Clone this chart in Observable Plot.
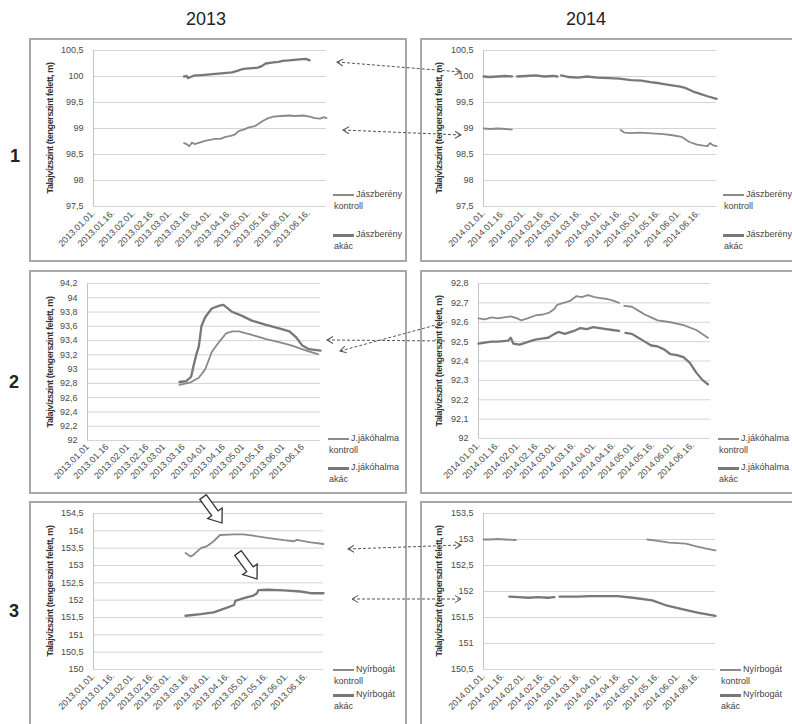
<!DOCTYPE html>
<html><head><meta charset="utf-8">
<script src="https://cdn.jsdelivr.net/npm/d3@7"></script>
<script src="https://cdn.jsdelivr.net/npm/@observablehq/plot@0.6"></script>
<style>
body{margin:0;background:#fff;width:792px;height:724px;overflow:hidden;position:relative;font-family:"Liberation Sans",Arial,sans-serif;color:#444;}
.frame{position:absolute;border:2px solid #a8a8a8;box-sizing:border-box;}
.hdr{position:absolute;font-size:18px;color:#222;line-height:1;}
.row{position:absolute;font-size:18px;font-weight:bold;color:#222;line-height:1;}
.ytitle{position:absolute;transform:translate(-50%,-50%) rotate(-90deg);white-space:nowrap;font-weight:bold;font-size:9px;letter-spacing:-0.4px;font-family:"Liberation Sans",sans-serif;color:#333;}
.leg{position:absolute;font-size:9px;color:#444;line-height:11px;white-space:nowrap;}
.sw{position:absolute;}
svg.chart{position:absolute;overflow:visible;}
</style></head>
<body>
<script>
// ---------- data ----------
const years = [2013, 2014];
const siteNames = ["Jászberény", "J.jákóhalma", "Nyírbogát"];
const treatmentNames = ["kontroll", "akác"];
const xTickMD = ["01.01","01.16","02.01","02.16","03.01","03.16","04.01","04.16","05.01","05.16","06.01","06.16"];
const yTicksJaszbereny = [97.5, 98, 98.5, 99, 99.5, 100, 100.5];
const yTicksJakohalma2013 = [92, 92.2, 92.4, 92.6, 92.8, 93, 93.2, 93.4, 93.6, 93.8, 94, 94.2];
const yTicksJakohalma2014 = [92, 92.1, 92.2, 92.3, 92.4, 92.5, 92.6, 92.7, 92.8];
const yTicksNyirbogat2013 = [150, 150.5, 151, 151.5, 152, 152.5, 153, 153.5, 154, 154.5];
const yTicksNyirbogat2014 = [150.5, 151, 151.5, 152, 152.5, 153, 153.5];

// [month-day, groundwater level m a.s.l.]; null = gap in the record
const jaszbereny2013Akac = [["03-12",100.0],["03-14",100.01],["03-15",99.97],["03-16",99.98],["03-18",100.0],["03-20",100.02],["03-23",100.02],["03-28",100.03],["04-01",100.04],["04-05",100.05],["04-10",100.06],["04-14",100.07],["04-18",100.08],["04-22",100.11],["04-26",100.14],["04-29",100.15],["05-04",100.16],["05-08",100.17],["05-11",100.2],["05-14",100.25],["05-20",100.27],["05-24",100.28],["05-27",100.3],["06-01",100.31],["06-05",100.32],["06-09",100.33],["06-14",100.34],["06-17",100.31]];
const jaszbereny2013Kontroll = [["03-12",98.72],["03-14",98.7],["03-16",98.66],["03-18",98.73],["03-20",98.7],["03-24",98.73],["03-28",98.76],["04-01",98.78],["04-05",98.8],["04-09",98.8],["04-13",98.84],["04-17",98.86],["04-20",98.88],["04-23",98.95],["04-27",98.98],["05-01",99.02],["05-05",99.04],["05-08",99.08],["05-12",99.15],["05-16",99.2],["05-20",99.23],["05-26",99.24],["06-01",99.25],["06-06",99.24],["06-12",99.25],["06-17",99.23],["06-21",99.2],["06-25",99.19],["06-28",99.22],["06-30",99.2]];
const jaszbereny2014Akac = [["01-01",100.0],["01-06",99.99],["01-12",100.0],["01-18",100.01],["01-23",100.0],["01-25",null],["01-27",100.0],["02-03",100.01],["02-10",100.02],["02-17",100.0],["02-24",100.01],["02-27",100.0],["02-28",null],["03-02",100.02],["03-08",99.99],["03-15",99.98],["03-22",100.0],["03-30",99.98],["04-08",99.97],["04-16",99.96],["04-25",99.93],["05-03",99.92],["05-10",99.89],["05-17",99.87],["05-24",99.84],["06-01",99.81],["06-06",99.78],["06-12",99.71],["06-18",99.66],["06-23",99.62],["06-30",99.57]];
const jaszbereny2014Kontroll = [["01-01",99.0],["01-06",98.99],["01-12",99.0],["01-18",98.99],["01-23",98.98],["01-25",null],["04-17",98.97],["04-20",98.92],["04-25",98.91],["05-01",98.92],["05-08",98.91],["05-14",98.9],["05-20",98.89],["05-27",98.87],["06-03",98.84],["06-09",98.74],["06-15",98.69],["06-20",98.67],["06-23",98.66],["06-25",98.72],["06-27",98.68],["06-30",98.66]];
const jakohalma2013Akac = [["03-13",92.82],["03-18",92.83],["03-22",92.89],["03-24",93.05],["03-26",93.2],["03-28",93.32],["03-30",93.6],["04-02",93.73],["04-07",93.85],["04-13",93.89],["04-16",93.9],["04-23",93.8],["04-30",93.75],["05-08",93.68],["05-19",93.62],["05-29",93.57],["06-06",93.53],["06-11",93.45],["06-16",93.33],["06-21",93.28],["06-30",93.26]];
const jakohalma2013Kontroll = [["03-13",92.78],["03-21",92.81],["03-28",92.88],["04-02",93.0],["04-07",93.24],["04-13",93.39],["04-18",93.5],["04-23",93.53],["04-28",93.53],["05-08",93.48],["05-19",93.42],["05-29",93.38],["06-08",93.33],["06-19",93.26],["06-28",93.21]];
const jakohalma2014Kontroll = [["01-01",92.62],["01-06",92.615],["01-11",92.625],["01-16",92.62],["01-21",92.625],["01-26",92.63],["01-31",92.62],["02-03",92.61],["02-08",92.62],["02-14",92.635],["02-20",92.64],["02-25",92.65],["03-01",92.67],["03-03",92.69],["03-08",92.7],["03-13",92.71],["03-18",92.735],["03-22",92.73],["03-27",92.74],["04-01",92.73],["04-06",92.725],["04-11",92.72],["04-16",92.71],["04-20",92.7],["04-22",null],["04-24",92.685],["04-30",92.68],["05-05",92.66],["05-10",92.64],["05-15",92.625],["05-20",92.61],["05-30",92.6],["06-09",92.585],["06-19",92.56],["06-28",92.52]];
const jakohalma2014Akac = [["01-01",92.49],["01-06",92.495],["01-11",92.5],["01-16",92.5],["01-24",92.505],["01-26",92.52],["01-28",92.49],["02-02",92.485],["02-09",92.5],["02-14",92.51],["02-19",92.515],["02-24",92.52],["03-01",92.54],["03-04",92.55],["03-09",92.54],["03-16",92.555],["03-21",92.57],["03-26",92.565],["03-31",92.575],["04-05",92.57],["04-10",92.565],["04-15",92.56],["04-20",92.555],["04-22",null],["04-25",92.545],["04-30",92.54],["05-05",92.52],["05-10",92.5],["05-15",92.48],["05-20",92.475],["05-25",92.46],["05-30",92.435],["06-04",92.43],["06-09",92.42],["06-14",92.39],["06-19",92.34],["06-24",92.3],["06-28",92.28]];
const nyirbogat2013Kontroll = [["03-14",153.36],["03-18",153.26],["03-20",153.3],["03-26",153.5],["03-31",153.56],["04-05",153.7],["04-10",153.88],["04-21",153.9],["04-28",153.9],["05-06",153.86],["05-17",153.8],["05-30",153.73],["06-07",153.7],["06-09",153.74],["06-20",153.67],["06-30",153.62]];
const nyirbogat2013Akac = [["03-14",151.55],["03-26",151.6],["04-05",151.65],["04-15",151.78],["04-21",151.86],["04-22",151.98],["04-28",152.05],["05-06",152.13],["05-09",152.2],["05-10",152.29],["05-17",152.3],["05-30",152.28],["06-12",152.25],["06-20",152.2],["06-30",152.2]];
const nyirbogat2014Kontroll = [["01-01",153.0],["01-06",153.0],["01-12",153.01],["01-18",153.0],["01-26",152.99],["01-28",null],["05-08",153.0],["05-15",152.98],["05-25",152.94],["06-07",152.92],["06-15",152.87],["06-22",152.83],["06-30",152.79]];
const nyirbogat2014Akac = [["01-21",151.9],["01-28",151.89],["02-05",151.88],["02-12",151.89],["02-20",151.88],["02-25",151.89],["02-27",null],["03-01",151.9],["03-08",151.9],["03-15",151.9],["03-25",151.91],["04-05",151.91],["04-15",151.91],["04-27",151.88],["05-12",151.83],["05-22",151.74],["06-04",151.66],["06-17",151.59],["06-30",151.53]];

// ---------- layout ----------
const lineStyle = {kontroll:{stroke:"#8a8a8a", width:1.8}, akac:{stroke:"#787878", width:2.3}};
const panels = [
  {site:0, year:2013, kontroll:jaszbereny2013Kontroll, akac:jaszbereny2013Akac, yTicks:yTicksJaszbereny, dot:true,
   box:[29,38,407,262], plot:[93,50,326,206], titleX:50, legX:333, legY:[195,235]},
  {site:0, year:2014, kontroll:jaszbereny2014Kontroll, akac:jaszbereny2014Akac, yTicks:yTicksJaszbereny, dot:true,
   box:[420,38,800,262], plot:[483,50,716,206], titleX:439, legX:723, legY:[195,235]},
  {site:1, year:2013, kontroll:jakohalma2013Kontroll, akac:jakohalma2013Akac, yTicks:yTicksJakohalma2013, dot:false,
   box:[29,270,407,494], plot:[87,283,320,440], titleX:50, legX:328, legY:[439,468]},
  {site:1, year:2014, kontroll:jakohalma2014Kontroll, akac:jakohalma2014Akac, yTicks:yTicksJakohalma2014, dot:true,
   box:[420,270,800,494], plot:[478,283,710,438], titleX:439, legX:718, legY:[439,468]},
  {site:2, year:2013, kontroll:nyirbogat2013Kontroll, akac:nyirbogat2013Akac, yTicks:yTicksNyirbogat2013, dot:true,
   box:[29,501,407,740], plot:[93,513,323,669], titleX:50, legX:333, legY:[670,695]},
  {site:2, year:2014, kontroll:nyirbogat2014Kontroll, akac:nyirbogat2014Akac, yTicks:yTicksNyirbogat2014, dot:true,
   box:[420,501,800,740], plot:[483,513,715,669], titleX:439, legX:720, legY:[670,695]}
];

function el(tag, cls, css, text){const e=document.createElement(tag); if(cls) e.className=cls; Object.assign(e.style, css||{}); if(text!=null) e.textContent=text; document.body.appendChild(e); return e;}
const comma = v => String(v).replace(".", ",");
const toDate = (year, md) => { const [m,d] = md.split("-").map(Number); return new Date(Date.UTC(year, m-1, d)); };

// headers
el("div","hdr",{left:"186px",top:"10px"}, String(years[0]));
el("div","hdr",{left:"566px",top:"10px"}, String(years[1]));
["1","2","3"].forEach((t,i)=>el("div","row",{left:["10px","9px","9px"][i],top:["147px","373px","602px"][i]}, t));

for (const p of panels) {
  const [bx1,by1,bx2,by2] = p.box, [px1,py1,px2,py2] = p.plot;
  const W = bx2-bx1, H = by2-by1;
  el("div","frame",{left:bx1+"px",top:by1+"px",width:W+"px",height:H+"px"});
  const x0 = new Date(Date.UTC(p.year,0,1)), x1 = new Date(Date.UTC(p.year,5,30));
  const ticks = xTickMD.map(md => toDate(p.year, md.replace(".","-")));
  const rows = s => s.map(([md,v]) => ({date: toDate(p.year, md), value: v}));
  const chart = Plot.plot({
    width: W, height: H,
    marginLeft: px1-bx1, marginRight: bx2-px2, marginTop: py1-by1, marginBottom: by2-py2,
    style: {fontFamily:"'Liberation Sans', Arial, sans-serif", fontSize:"9px", color:"#4a4a4a", background:"transparent", overflow:"visible"},
    x: {type:"utc", domain:[x0,x1], ticks, tickFormat: d => `${p.year}.${d3.utcFormat("%m.%d")(d)}${p.dot?".":""}`, tickRotate:-45, tickSize:0, tickPadding:5, label:null},
    y: {domain:[p.yTicks[0], p.yTicks[p.yTicks.length-1]], ticks:p.yTicks, tickFormat: comma, tickSize:0, tickPadding:10, label:null},
    marks: [
      Plot.ruleY(p.yTicks, {stroke:"#d4d4d4", strokeWidth:1}),
      Plot.ruleX([x0], {stroke:"#c4c4c4", strokeWidth:1}),
      Plot.line(rows(p.kontroll), {x:"date", y:"value", stroke:lineStyle.kontroll.stroke, strokeWidth:lineStyle.kontroll.width}),
      Plot.line(rows(p.akac), {x:"date", y:"value", stroke:lineStyle.akac.stroke, strokeWidth:lineStyle.akac.width})
    ]
  });
  chart.classList.add("chart");
  chart.style.left = bx1+"px"; chart.style.top = by1+"px";
  document.body.appendChild(chart);
  el("div","ytitle",{left:p.titleX+"px",top:((py1+py2)/2)+"px"}, "Talajvízszint (tengerszint felett, m)");
  // legend
  treatmentNames.forEach((t,i)=>{
    const st = i===0 ? lineStyle.kontroll : lineStyle.akac;
    const y = p.legY[i];
    el("div","sw",{left:p.legX+"px",top:(y-(i===0?1:1.5))+"px",width:"21px",height:(i===0?1.5:3)+"px",background:st.stroke});
    el("div","leg",{left:(p.legX+23)+"px",top:(y-6)+"px"}, siteNames[p.site]);
    el("div","leg",{left:(p.legX+1)+"px",top:(y+6)+"px"}, t);
  });
}

// annotation overlay: dashed connectors and hollow arrows
const ns = "http://www.w3.org/2000/svg";
const ov = document.createElementNS(ns,"svg");
ov.setAttribute("width","792"); ov.setAttribute("height","724");
ov.style.cssText = "position:absolute;left:0;top:0;pointer-events:none";
ov.innerHTML = `<defs><marker id="oh" viewBox="-8 -5 9 10" markerWidth="9" markerHeight="10" refX="0" refY="0" orient="auto-start-reverse" markerUnits="userSpaceOnUse"><path d="M-6,-3.5 L0,0 L-6,3.5" fill="none" stroke="#555" stroke-width="1"/></marker></defs>`;
const connectors = [
  [[337,62],[461,72],true],[[343,130],[461,135],true],
  [[327,340],[447,341],false],[[340,351],[447,322],false],
  [[348,549],[461,545],true],[[352,599],[461,599],true]
];
for (const [a,b,both] of connectors) {
  const l = document.createElementNS(ns,"line");
  l.setAttribute("x1",a[0]); l.setAttribute("y1",a[1]); l.setAttribute("x2",b[0]); l.setAttribute("y2",b[1]);
  l.setAttribute("stroke","#555"); l.setAttribute("stroke-width","1"); l.setAttribute("stroke-dasharray","3,2");
  l.setAttribute("marker-start","url(#oh)"); if (both) l.setAttribute("marker-end","url(#oh)");
  ov.appendChild(l);
}
const hollow = [[[203,497],[222,523]],[[238,553],[257,579]]];
for (const [t,h] of hollow) {
  const ang = Math.atan2(h[1]-t[1], h[0]-t[0]) * 180/Math.PI;
  const len = Math.hypot(h[0]-t[0], h[1]-t[1]);
  const sh = len-12, sw = 4, hw = 9;
  const g = document.createElementNS(ns,"polygon");
  g.setAttribute("points",`0,${-sw} ${sh},${-sw} ${sh},${-hw} ${len},0 ${sh},${hw} ${sh},${sw} 0,${sw}`);
  g.setAttribute("transform",`translate(${t[0]},${t[1]}) rotate(${ang})`);
  g.setAttribute("fill","#fff"); g.setAttribute("stroke","#333"); g.setAttribute("stroke-width","1.3");
  ov.appendChild(g);
}
document.body.appendChild(ov);
</script>
</body></html>
